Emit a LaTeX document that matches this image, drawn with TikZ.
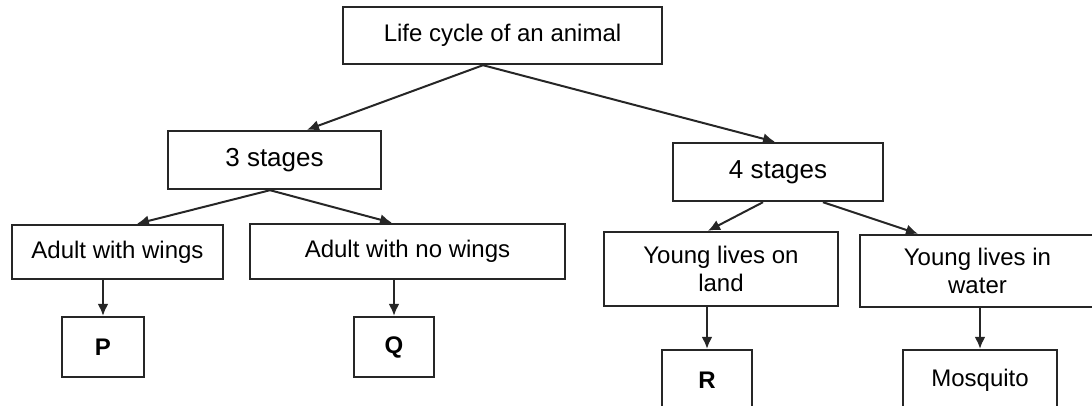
\documentclass[tikz,border=0pt]{standalone}
\usepackage{fontspec}
\setmainfont{Liberation Sans}
\usepackage{tikz}
\usetikzlibrary{arrows.meta, positioning}
\tikzstyle{box} = [rectangle, draw=black!85, line width=2.4pt, fill=white, text centered, align=center, inner sep=2pt, font=\fontsize{24}{28}\selectfont]
\tikzstyle{arrow} = [draw=black!85, line width=2pt, -{Latex[length=12pt, width=11pt]}]

\begin{document}
\begin{tikzpicture}[x=1pt, y=-1pt]
    \useasboundingbox (0,0) rectangle (1092,405);
    \clip (0,0) rectangle (1092,405);
    \node (life) [box, minimum width=319pt, minimum height=57pt] at (502.5,35.5) {Life cycle of an animal};
    \node (three) [box, minimum width=213pt, minimum height=58pt, font=\fontsize{26}{30}\selectfont] at (274.5,160) {3 stages};
    \node (four) [box, minimum width=210pt, minimum height=58pt, font=\fontsize{26}{30}\selectfont] at (778,172) {4 stages};
    \node (wings) [box, minimum width=211pt, minimum height=54pt] at (117.5,252) {Adult with wings};
    \node (nowings) [box, minimum width=315pt, minimum height=55pt] at (407.5,251.5) {Adult with no wings};
    \node (land) [box, minimum width=234pt, minimum height=74pt] at (721,269) {Young lives on\\land};
    \node (water) [box, minimum width=235pt, minimum height=72pt] at (977.5,271) {Young lives in\\water};
    \node (p) [box, minimum width=82pt, minimum height=60pt] at (103,347) {\textbf{P}};
    \node (q) [box, minimum width=80pt, minimum height=60pt] at (394,347) {\textbf{Q}};
    \node (r) [box, minimum width=90pt, minimum height=60pt] at (707,380) {\textbf{R}};
    \node (mosquito) [box, minimum width=154pt, minimum height=60pt] at (980,380) {Mosquito};

    \draw [arrow] ([xshift=-19.5pt]life.south) -- ([xshift=32.5pt]three.north);
    \draw [arrow] ([xshift=-19.5pt]life.south) -- ([xshift=-3pt]four.north);
    \draw [arrow] ([xshift=-4.5pt]three.south) -- ([xshift=19.5pt]wings.north);
    \draw [arrow] ([xshift=-4.5pt]three.south) -- ([xshift=-15.5pt]nowings.north);
    \draw [arrow] ([xshift=-15pt]four.south) -- ([xshift=-13pt]land.north);
    \draw [arrow] ([xshift=45pt]four.south) -- ([xshift=-59.5pt]water.north);
    \draw [arrow] (p.north |- wings.south) -- (p.north);
    \draw [arrow] (q.north |- nowings.south) -- (q.north);
    \draw [arrow] (r.north |- land.south) -- (r.north);
    \draw [arrow] (mosquito.north |- water.south) -- (mosquito.north);
\end{tikzpicture}
\end{document}
